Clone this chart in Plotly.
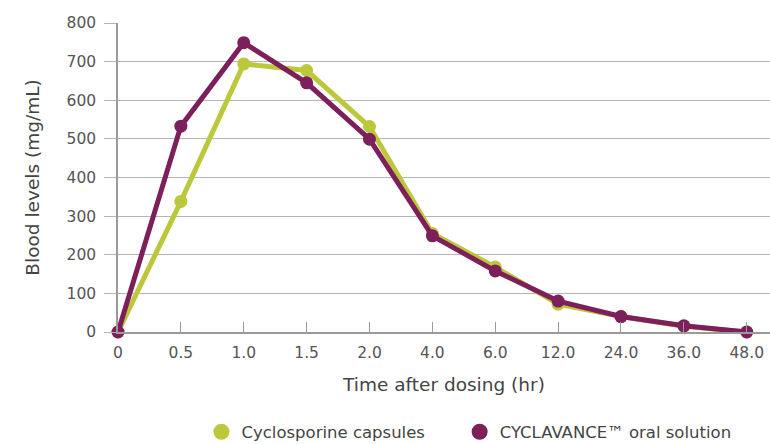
import plotly.graph_objects as go

time_labels = ["0", "0.5", "1.0", "1.5", "2.0", "4.0", "6.0", "12.0", "24.0", "36.0", "48.0"]
capsules = [0, 338, 694, 677, 532, 255, 168, 72, 40, 15, 0]
cyclavance = [0, 533, 749, 645, 499, 249, 158, 80, 40, 16, 0]
y_ticks = [0, 100, 200, 300, 400, 500, 600, 700, 800]

green = "#bcc83b"
purple = "#7d1f5a"
font_fam = "DejaVu Sans, Verdana, sans-serif"

fig = go.Figure()
fig.add_trace(go.Scatter(x=time_labels, y=capsules, mode="lines+markers",
                         line=dict(color=green, width=5),
                         marker=dict(color=green, size=13),
                         showlegend=False, cliponaxis=False))
fig.add_trace(go.Scatter(x=time_labels, y=cyclavance, mode="lines+markers",
                         line=dict(color=purple, width=5),
                         marker=dict(color=purple, size=13),
                         showlegend=False, cliponaxis=False))
# legend-only entries
fig.add_trace(go.Scatter(x=[None], y=[None], mode="markers", name="Cyclosporine capsules",
                         marker=dict(color=green, size=18), legend="legend"))
fig.add_trace(go.Scatter(x=[None], y=[None], mode="markers", name="CYCLAVANCE™ oral solution",
                         marker=dict(color=purple, size=18), legend="legend2"))

legend_common = dict(orientation="h", xanchor="left", xref="paper",
                     y=0.027, yanchor="middle", yref="container",
                     bgcolor="rgba(0,0,0,0)",
                     font=dict(size=16.5, color="#444444"))

fig.update_layout(
    width=770, height=444,
    margin=dict(l=118, r=0, t=23, b=112, autoexpand=False),
    paper_bgcolor="white", plot_bgcolor="white",
    font=dict(family=font_fam, color="#555555", size=16),
    showlegend=True,
    legend=dict(x=0.128, **legend_common),
    legend2=dict(x=0.524, **legend_common),
    xaxis=dict(
        type="category", categoryorder="array", categoryarray=time_labels,
        range=[0, 10.37], showgrid=False, zeroline=False, automargin=False,
        showline=True, linecolor="#9a9a9a", linewidth=1.5,
        ticks="inside", ticklen=10, tickcolor="#9a9a9a", tickwidth=1,
        ticklabelstandoff=6,
        tickfont=dict(size=15.5, color="#555555"),
        title=dict(text="Time after dosing (hr)", font=dict(size=18.5, color="#444444"), standoff=17),
    ),
    yaxis=dict(
        range=[0, 800], tickvals=y_ticks, showgrid=True, gridcolor="#b5b5b5", gridwidth=1,
        zeroline=False, showline=True, linecolor="#9a9a9a", linewidth=1.5, automargin=False,
        ticks="outside", ticklen=12, tickcolor="#b5b5b5",
        ticklabelstandoff=5,
        tickfont=dict(size=15.5, color="#555555"),
        title=dict(text="Blood levels (mg/mL)", font=dict(size=18.5, color="#444444"), standoff=22),
    ),
)

fig.write_html("out.html", config={"displayModeBar": False},
               post_script="document.body.style.margin='0px';")
